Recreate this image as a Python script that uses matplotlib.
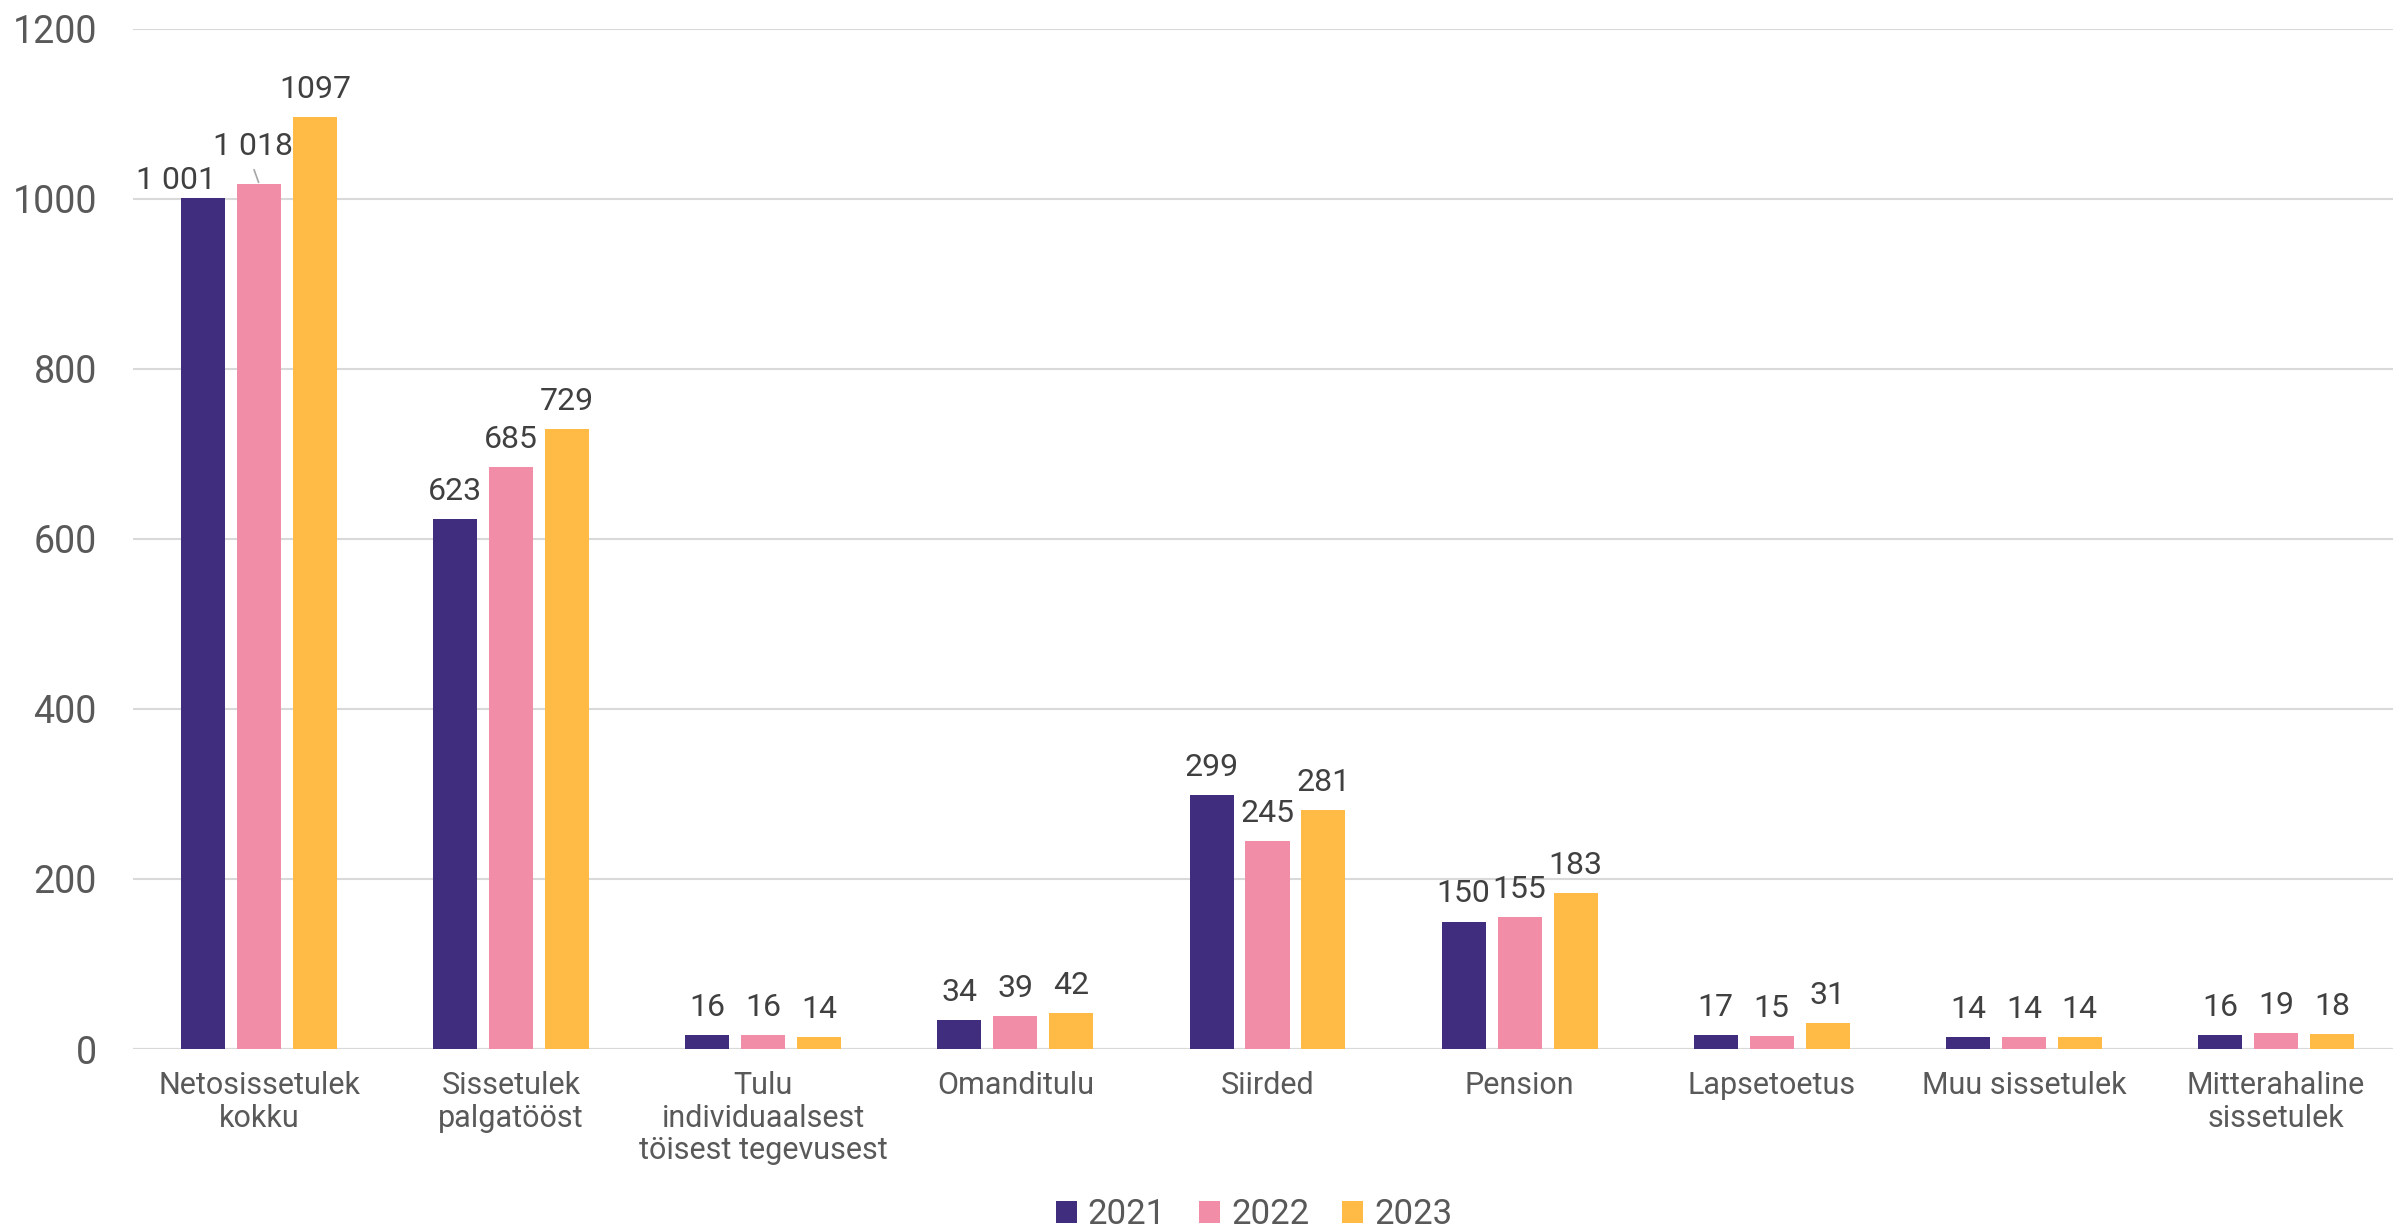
import matplotlib
matplotlib.use("Agg")
import matplotlib.pyplot as plt
import numpy as np

plt.rcParams['font.family'] = ['Roboto', 'DejaVu Sans']

categories = ["Netosissetulek\nkokku", "Sissetulek\npalgatööst",
              "Tulu\nindividuaalsest\ntöisest tegevusest", "Omanditulu",
              "Siirded", "Pension", "Lapsetoetus", "Muu sissetulek",
              "Mitterahaline\nsissetulek"]
years = ["2021", "2022", "2023"]
v2021 = [1001, 623, 16, 34, 299, 150, 17, 14, 16]
v2022 = [1018, 685, 16, 39, 245, 155, 15, 14, 19]
v2023 = [1097, 729, 14, 42, 281, 183, 31, 14, 18]
yticks = [0, 200, 400, 600, 800, 1000, 1200]

series = [v2021, v2022, v2023]
colors = ["#402D7E", "#F28DA7", "#FFBB45"]
use_sep = [True, True, False]  # thousands separator style per series

# label offsets in pixels (dx, dy above bar top) for manually moved labels
label_offsets = {(0, 0): (-27, 9), (1, 0): (-6, 29)}

W, H = 2393, 1231
fig = plt.figure(figsize=(W / 100, H / 100), dpi=100)
left, right = 133, 2402
bottom_px, top_px = 1049, 29
ax = fig.add_axes([left / W, 1 - bottom_px / H, (right - left) / W, (bottom_px - top_px) / H])

x = np.arange(len(categories))
bw = 0.1746
step = 0.222
for i, (vals, col) in enumerate(zip(series, colors)):
    xs = x + (i - 1) * step
    ax.bar(xs, vals, width=bw, color=col, label=years[i], zorder=3)
    for j, (xx, v) in enumerate(zip(xs, vals)):
        txt = f"{v:,}".replace(",", " ") if use_sep[i] else str(v)
        dx, dy = label_offsets.get((i, j), (0, 19))
        ax.annotate(txt, xy=(xx, v), xytext=(dx * 0.72, dy * 0.72),
                    textcoords="offset points", ha="center", va="baseline",
                    fontsize=23, color="#404040", zorder=5)
        if (i, j) == (1, 0):
            ax.annotate("", xy=(xx, v), xytext=(-5 * 0.72, 14 * 0.72),
                        textcoords="offset points",
                        arrowprops=dict(arrowstyle="-", color="#A6A6A6", lw=1.2,
                                        shrinkA=0, shrinkB=1), zorder=4)

ax.set_xlim(-0.5, len(categories) - 0.5)
ax.set_ylim(0, 1200)
ax.set_yticks(yticks)
ax.set_yticklabels([str(t) for t in yticks])
ax.set_xticks(x)
ax.set_xticklabels(categories, linespacing=1.15)
ax.tick_params(axis='y', length=0, pad=26, labelsize=27, labelcolor="#595959")
ax.tick_params(axis='x', length=0, pad=16, labelsize=22, labelcolor="#595959")
ax.grid(axis='y', color="#D9D9D9", lw=1.5, zorder=0)
for s in ax.spines.values():
    s.set_visible(False)
ax.axhline(0, color="#D9D9D9", lw=1.5, zorder=2)

fig.legend(loc="center", bbox_to_anchor=(1254 / W, 1 - 1215 / H), ncol=3,
           frameon=False, fontsize=25, handlelength=0.6, handleheight=0.6,
           handletextpad=0.32, columnspacing=0.95, labelcolor="#595959",
           borderaxespad=0, borderpad=0)

fig.savefig("out.png", dpi=100)
